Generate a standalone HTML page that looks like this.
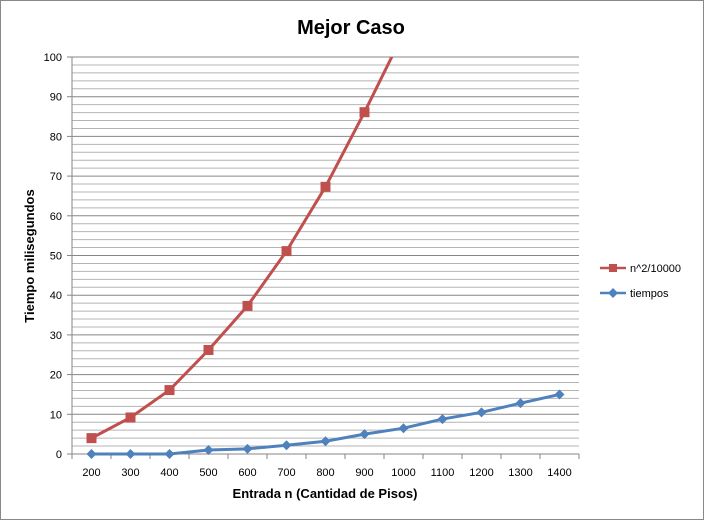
<!DOCTYPE html>
<html><head><meta charset="utf-8"><style>
html,body{margin:0;padding:0;background:#fff;}
svg{display:block;font-family:"Liberation Sans",Arial,sans-serif;}
</style></head><body>
<svg id="c" width="704" height="520">
<rect x="0.5" y="0.5" width="703" height="519" fill="#fff" stroke="#888"/>
<text x="351" y="34" text-anchor="middle" font-size="20" font-weight="bold">Mejor Caso</text>
<text x="325" y="498" text-anchor="middle" font-size="13" font-weight="bold">Entrada n (Cantidad de Pisos)</text>
<text transform="translate(34,256) rotate(-90)" text-anchor="middle" font-size="13" font-weight="bold">Tiempo milisegundos</text>
<g id="grid"></g><g id="axes"></g><g id="series"></g>
<g>
<line x1="600" y1="268" x2="626" y2="268" stroke="#C0504D" stroke-width="2.5"/>
<rect x="609" y="264" width="8" height="8" fill="#C0504D"/>
<text x="630" y="272" font-size="11">n^2/10000</text>
<line x1="600" y1="293" x2="626" y2="293" stroke="#4F81BD" stroke-width="2.5"/>
<path d="M613 288 L618 293 L613 298 L608 293Z" fill="#4F81BD"/>
<text x="630" y="297" font-size="11">tiempos</text>
</g>
</svg>
<script>
const categories=[200,300,400,500,600,700,800,900,1000,1100,1200,1300,1400];
const n2Values=[4,9.2,16.1,26.2,37.3,51.1,67.3,86.1,106];
const tiemposValues=[0,0,0,1,1.3,2.2,3.2,5,6.5,8.8,10.5,12.8,15];
const yTicks=[0,10,20,30,40,50,60,70,80,90,100];
const NS="http://www.w3.org/2000/svg";
const L=72,R=579,T=57,B=454,yMax=100;
const step=(R-L)/categories.length;
const xs=i=>L+step*(i+0.5);
const ys=v=>B-(v/yMax)*(B-T);
function mk(tag,attrs,parent){const e=document.createElementNS(NS,tag);for(const k in attrs)e.setAttribute(k,attrs[k]);parent.appendChild(e);return e;}
const grid=document.getElementById('grid'),axes=document.getElementById('axes'),ser=document.getElementById('series');
for(let v=2;v<=yMax;v+=2){
 const major=v%10===0;
 const l=mk('line',{x1:L,x2:R,y1:ys(v),y2:ys(v),stroke:major?'#868686':'#b4b4b4','stroke-width':1},grid);
 
 
}
yTicks.forEach(v=>{
 const t=mk('text',{x:L-10,y:ys(v)+4,'text-anchor':'end','font-size':11},axes);t.textContent=v;
 
 
 mk('line',{x1:L-5,x2:L,y1:ys(v),y2:ys(v),stroke:'#868686'},axes);
});
const ya=mk('line',{x1:L,x2:L,y1:T,y2:B,stroke:'#868686'},axes);


const xa=mk('line',{x1:L,x2:R,y1:B,y2:B,stroke:'#868686'},axes);


for(let i=0;i<=categories.length;i++)mk('line',{x1:L+step*i,x2:L+step*i,y1:B,y2:B+5,stroke:'#868686'},axes);
categories.forEach((c,i)=>{
 const t=mk('text',{x:xs(i),y:B+22,'text-anchor':'middle','font-size':11},axes);t.textContent=c;
 
 
});
mk('clipPath',{id:'clip'},ser).appendChild(document.createElementNS(NS,'rect'));
const cr=ser.querySelector('#clip rect');cr.setAttribute('x',L);cr.setAttribute('y',T);cr.setAttribute('width',R-L);cr.setAttribute('height',B-T+10);
function line(vals,color,name){
 const g=mk('g',{'clip-path':'url(#clip)'},ser);
 
 
 mk('polyline',{points:vals.map((v,i)=>xs(i)+','+ys(v)).join(' '),fill:'none',stroke:color,'stroke-width':3,'stroke-linejoin':'round'},g);
 return g;
}
const g1=line(tiemposValues,'#4F81BD','series-tiempos');
tiemposValues.forEach((v,i)=>{const x=xs(i),y=ys(v);
 const p=mk('path',{d:`M${x} ${y-5}L${x+5} ${y}L${x} ${y+5}L${x-5} ${y}Z`,fill:'#4F81BD'},g1);
 
 
});
const g2=line(n2Values,'#C0504D','series-n2');
n2Values.forEach((v,i)=>{if(v>yMax)return;const x=xs(i),y=ys(v);
 const p=mk('rect',{x:x-5,y:y-5,width:10,height:10,fill:'#C0504D'},g2);
 
 
});
</script>
</body></html>
